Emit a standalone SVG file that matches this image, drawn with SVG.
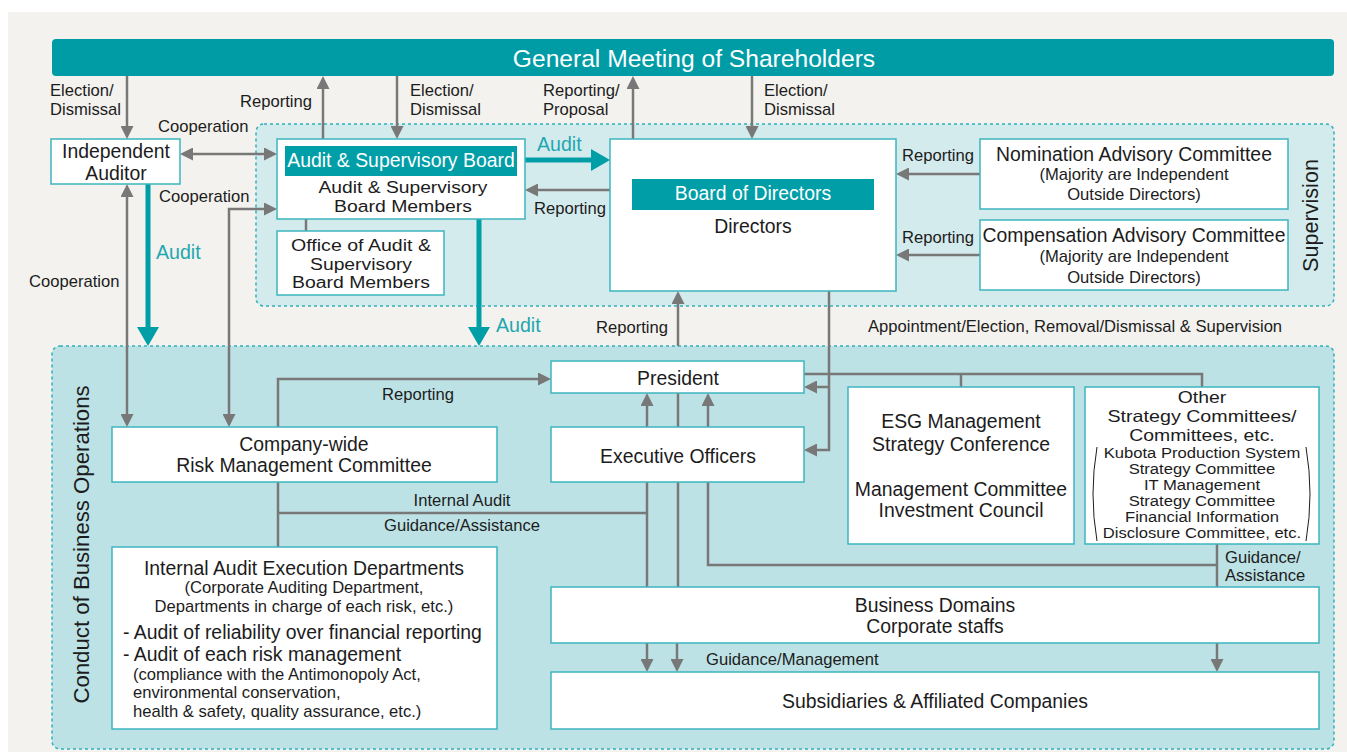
<svg xmlns="http://www.w3.org/2000/svg" width="1347" height="752" viewBox="0 0 1347 752">
<style>
text{font-family:"Liberation Sans",Arial,Helvetica,sans-serif;fill:#1c1c1c}
.t{font-size:19.4px}
.s{font-size:16.6px}
.l{font-size:16.6px}
.o{font-size:16px}
.ab{font-size:16.8px}
.ob{font-size:16.5px}
.os{font-size:13.8px}
.m{text-anchor:middle}
.e{text-anchor:end}
.w{fill:#ffffff}
.a{fill:#1ea7b1;font-size:19.6px}
.box{fill:#ffffff;stroke:#3db5be;stroke-width:1.5}
.hdr{fill:#009ea7}
.g{fill:none;stroke:#787878;stroke-width:2.5}
.tl{fill:none;stroke:#009ea7;stroke-width:5}
.zone{stroke:#2fb1bb;stroke-width:1.5;stroke-dasharray:3 3}
</style>
<defs>
<marker id="ag" markerUnits="userSpaceOnUse" markerWidth="13" markerHeight="13" refX="8" refY="6.5" orient="auto-start-reverse"><path d="M0,0 L13,6.5 L0,13 Z" fill="#787878"/></marker>
<marker id="at" markerUnits="userSpaceOnUse" markerWidth="19" markerHeight="22" refX="9" refY="11" orient="auto-start-reverse"><path d="M0,0 L19,11 L0,22 Z" fill="#009ea7"/></marker>
</defs>
<rect x="0" y="0" width="1347" height="752" fill="#ffffff"/>
<rect x="8" y="12" width="1339" height="740" fill="#f3f2ee"/>
<g id="zone-supervision">
<rect class="zone" x="256" y="124" width="1078" height="182" rx="8" fill="#d4ebed"/>
<text transform="translate(1318,215.5) rotate(-90)" class="m" style="font-size:21.6px">Supervision</text>
</g>
<g id="zone-operations">
<rect class="zone" x="52" y="346" width="1282" height="403" rx="8" fill="#bde2e5"/>
<text transform="translate(89,544.5) rotate(-90)" class="m" style="font-size:22.2px">Conduct of Business Operations</text>
</g>
<g id="gms">
<rect x="52" y="39" width="1282" height="37" rx="4" fill="#009ca6"/>
<text x="694" y="66.5" class="m w" style="font-size:24.6px">General Meeting of Shareholders</text>
</g>
<g id="connectors">
<path class="g" d="M127,76 V134" marker-end="url(#ag)"/>
<path class="g" d="M323,139 V81" marker-end="url(#ag)"/>
<path class="g" d="M397,76 V134" marker-end="url(#ag)"/>
<path class="g" d="M633,139 V81" marker-end="url(#ag)"/>
<path class="g" d="M752,76 V134" marker-end="url(#ag)"/>
<path class="g" d="M185,154 H272" marker-start="url(#ag)" marker-end="url(#ag)"/>
<path class="g" d="M229,422 V209 H272" marker-start="url(#ag)" marker-end="url(#ag)"/>
<path class="g" d="M127,189 V422" marker-start="url(#ag)" marker-end="url(#ag)"/>
<path class="g" d="M980,174 H901" marker-end="url(#ag)"/>
<path class="g" d="M980,255 H901" marker-end="url(#ag)"/>
<path class="g" d="M610,190 H530" marker-end="url(#ag)"/>
<path class="g" d="M678,346 V296" marker-end="url(#ag)"/>
<path class="g" d="M829,291 V450 H809" marker-end="url(#ag)"/>
<path class="g" d="M829,387 H809" marker-end="url(#ag)"/>
<path class="g" d="M804,374 H1202 V387"/>
<path class="g" d="M961,374 V387"/>
<path class="g" d="M278,427 V379 H546" marker-end="url(#ag)"/>
<path class="g" d="M278,482 V547"/>
<path class="g" d="M278,513 H647"/>
<path class="g" d="M647,427 V398" marker-end="url(#ag)"/>
<path class="g" d="M708,427 V398" marker-end="url(#ag)"/>
<path class="g" d="M678,393 V427"/>
<path class="g" d="M647,482 V587"/>
<path class="g" d="M678,482 V587"/>
<path class="g" d="M708,482 V565 H1217"/>
<path class="g" d="M1217,544 V587"/>
<path class="g" d="M647,643 V667" marker-end="url(#ag)"/>
<path class="g" d="M677,643 V667" marker-end="url(#ag)"/>
<path class="g" d="M1217,643 V667" marker-end="url(#ag)"/>
<path class="tl" d="M148,184 V336" marker-end="url(#at)"/>
<path class="tl" d="M525,160 H600" marker-end="url(#at)"/>
<path class="tl" d="M479,219 V336" marker-end="url(#at)"/>
<path class="g" d="M306,219 V231"/>
</g>
<g id="labels">
<text x="50" y="96" class="l">Election/</text>
<text x="50" y="115" class="l">Dismissal</text>
<text x="312" y="107" class="l e">Reporting</text>
<text x="410" y="96" class="l">Election/</text>
<text x="410" y="115" class="l">Dismissal</text>
<text x="543" y="96" class="l">Reporting/</text>
<text x="543" y="115" class="l">Proposal</text>
<text x="764" y="96" class="l">Election/</text>
<text x="764" y="115" class="l">Dismissal</text>
<text x="158" y="132" class="l">Cooperation</text>
<text x="159" y="202" class="l">Cooperation</text>
<text x="29" y="287" class="l">Cooperation</text>
<text x="156" y="259" class="a">Audit</text>
<text x="537" y="151" class="a">Audit</text>
<text x="534" y="214" class="l">Reporting</text>
<text x="496" y="332" class="a">Audit</text>
<text x="596" y="333" class="l">Reporting</text>
<text x="902" y="161" class="l">Reporting</text>
<text x="902" y="243" class="l">Reporting</text>
<text x="868" y="332" class="l">Appointment/Election, Removal/Dismissal &amp; Supervision</text>
<text x="418" y="400" class="l m">Reporting</text>
<text x="462" y="506" class="l m">Internal Audit</text>
<text x="462" y="531" class="l m">Guidance/Assistance</text>
<text x="1225" y="563" class="l">Guidance/</text>
<text x="1225" y="581" class="l">Assistance</text>
<text x="706" y="665" class="l">Guidance/Management</text>
</g>
<g id="independent-auditor">
<rect class="box" x="51" y="139" width="129" height="45"/>
<text x="116" y="158" class="t m">Independent</text>
<text x="116" y="180" class="t m">Auditor</text>
</g>
<g id="audit-supervisory-board">
<rect class="box" x="277" y="139" width="248" height="80"/>
<rect class="hdr" x="285" y="146" width="232" height="30"/>
<text x="401" y="167" class="t m w">Audit &amp; Supervisory Board</text>
<text x="403" y="193" class="ab m" textLength="169" lengthAdjust="spacingAndGlyphs">Audit &amp; Supervisory</text>
<text x="403" y="212" class="ab m" textLength="138" lengthAdjust="spacingAndGlyphs">Board Members</text>
</g>
<g id="office-audit">
<rect class="box" x="277" y="231" width="167" height="64"/>
<text x="361" y="251" class="o m" textLength="140" lengthAdjust="spacingAndGlyphs">Office of Audit &amp;</text>
<text x="361" y="269.5" class="o m" textLength="102" lengthAdjust="spacingAndGlyphs">Supervisory</text>
<text x="361" y="288" class="o m" textLength="138" lengthAdjust="spacingAndGlyphs">Board Members</text>
</g>
<g id="board-of-directors">
<rect class="box" x="610" y="139" width="286" height="152"/>
<rect class="hdr" x="632" y="179" width="242" height="31"/>
<text x="753" y="200" class="t m w">Board of Directors</text>
<text x="753" y="233" class="t m">Directors</text>
</g>
<g id="nomination">
<rect class="box" x="980" y="139" width="308" height="70"/>
<text x="1134" y="161" class="t m">Nomination Advisory Committee</text>
<text x="1134" y="180" class="s m">(Majority are Independent</text>
<text x="1134" y="200" class="s m">Outside Directors)</text>
</g>
<g id="compensation">
<rect class="box" x="980" y="220" width="308" height="70"/>
<text x="1134" y="242" class="t m">Compensation Advisory Committee</text>
<text x="1134" y="262" class="s m">(Majority are Independent</text>
<text x="1134" y="283" class="s m">Outside Directors)</text>
</g>
<g id="risk-committee">
<rect class="box" x="112" y="427" width="385" height="55"/>
<text x="304" y="451" class="t m">Company-wide</text>
<text x="304" y="472" class="t m">Risk Management Committee</text>
</g>
<g id="internal-audit">
<rect class="box" x="112" y="547" width="385" height="182"/>
<text x="304" y="575" class="t m">Internal Audit Execution Departments</text>
<text x="304" y="593" class="s m">(Corporate Auditing Department,</text>
<text x="304" y="612" class="s m">Departments in charge of each risk, etc.)</text>
<text x="123" y="639" class="t">- Audit of reliability over financial reporting</text>
<text x="123" y="661" class="t">- Audit of each risk management</text>
<text x="133" y="680" class="s">(compliance with the Antimonopoly Act,</text>
<text x="133" y="698" class="s">environmental conservation,</text>
<text x="133" y="717" class="s">health &amp; safety, quality assurance, etc.)</text>
</g>
<g id="president">
<rect class="box" x="551" y="361" width="253" height="32"/>
<text x="678" y="385" class="t m">President</text>
</g>
<g id="executive-officers">
<rect class="box" x="551" y="427" width="253" height="55"/>
<text x="678" y="463" class="t m">Executive Officers</text>
</g>
<g id="esg">
<rect class="box" x="848" y="387" width="226" height="157"/>
<text x="961" y="428" class="t m">ESG Management</text>
<text x="961" y="451" class="t m">Strategy Conference</text>
<text x="961" y="496" class="t m">Management Committee</text>
<text x="961" y="517" class="t m">Investment Council</text>
</g>
<g id="other-committees">
<rect class="box" x="1085" y="387" width="234" height="157"/>
<text x="1202" y="403" class="ob m" textLength="48.5" lengthAdjust="spacingAndGlyphs">Other</text>
<text x="1202" y="422" class="ob m" textLength="189" lengthAdjust="spacingAndGlyphs">Strategy Committees/</text>
<text x="1202" y="441" class="ob m" textLength="145.5" lengthAdjust="spacingAndGlyphs">Committees, etc.</text>
<text x="1202" y="457.5" class="os m" textLength="196.5" lengthAdjust="spacingAndGlyphs">Kubota Production System</text>
<text x="1202" y="473.5" class="os m" textLength="146.7" lengthAdjust="spacingAndGlyphs">Strategy Committee</text>
<text x="1202" y="489.5" class="os m" textLength="116.2" lengthAdjust="spacingAndGlyphs">IT Management</text>
<text x="1202" y="505.5" class="os m" textLength="146.7" lengthAdjust="spacingAndGlyphs">Strategy Committee</text>
<text x="1202" y="521.5" class="os m" textLength="154" lengthAdjust="spacingAndGlyphs">Financial Information</text>
<text x="1202" y="537.5" class="os m" textLength="198.3" lengthAdjust="spacingAndGlyphs">Disclosure Committee, etc.</text>
<path d="M1097,447 Q1089,494 1097,541" fill="none" stroke="#1c1c1c" stroke-width="1"/>
<path d="M1306,447 Q1314,494 1306,541" fill="none" stroke="#1c1c1c" stroke-width="1"/>
</g>
<g id="business-domains">
<rect class="box" x="551" y="587" width="768" height="56"/>
<text x="935" y="612" class="t m">Business Domains</text>
<text x="935" y="633" class="t m">Corporate staffs</text>
</g>
<g id="subsidiaries">
<rect class="box" x="551" y="672" width="768" height="57"/>
<text x="935" y="708" class="t m">Subsidiaries &amp; Affiliated Companies</text>
</g>
</svg>
